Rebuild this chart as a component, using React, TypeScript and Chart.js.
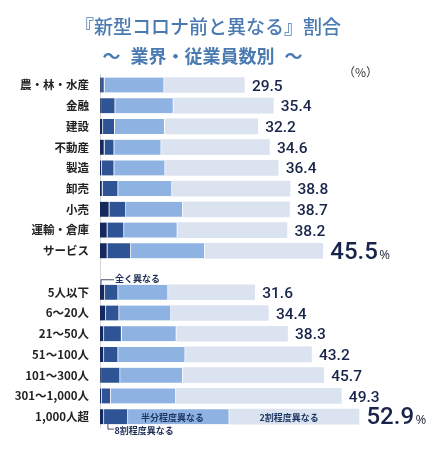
import React, { useEffect, useRef } from "react";
import { Chart, registerables } from "chart.js";

Chart.register(...registerables);

const categories = [
  "農・林・水産", "金融", "建設", "不動産", "製造", "卸売", "小売", "運輸・倉庫", "サービス",
  "",
  "5人以下", "6～20人", "21～50人", "51～100人", "101～300人", "301～1,000人", "1,000人超",
];

const seriesNames = ["全く異なる", "8割程度異なる", "半分程度異なる", "2割程度異なる"];

const totally = [0.2, 0.2, 0.6, 0.9, 0.3, 0.5, 1.9, 1.5, 1.5, null, 1.0, 1.2, 0.8, 0.8, 0.2, 0.3, 0.8];
const eighty = [0.7, 2.9, 2.4, 2.0, 2.6, 3.2, 3.4, 3.4, 4.8, null, 2.7, 2.7, 3.6, 2.9, 3.9, 1.9, 4.9];
const half = [12.2, 11.9, 10.2, 9.6, 10.4, 11.0, 11.6, 10.9, 15.1, null, 10.2, 10.6, 11.2, 13.7, 12.8, 13.3, 20.7];
const twenty = [16.4, 20.4, 19.0, 22.1, 23.1, 24.1, 21.8, 22.4, 24.1, null, 17.7, 19.9, 22.7, 25.8, 28.8, 33.8, 26.5];

const totals = [29.5, 35.4, 32.2, 34.6, 36.4, 38.8, 38.7, 38.2, 45.5, null, 31.6, 34.4, 38.3, 43.2, 45.7, 49.3, 52.9];
const bigRows = ["サービス", "1,000人超"];

const colors = ["#15295e", "#2f5496", "#8eb2e2", "#dbe3f0"];

const annotate = {
  id: "annotate",
  afterDatasetsDraw(chart: any) {
    const ctx = chart.ctx;
    ctx.save();
    const last = chart.getDatasetMeta(3);
    last.data.forEach((el: any, i: number) => {
      const v = totals[i];
      if (v == null) return;
      const big = bigRows.includes(categories[i]);
      const x = el.x + 7.5;
      const y = el.y;
      ctx.fillStyle = "#18244a";
      ctx.textAlign = "left";
      ctx.textBaseline = "alphabetic";
      if (big) {
        const t = v.toFixed(1);
        ctx.font = '500 24px Roboto, "Noto Sans"';
        ctx.fillText(t, x, y + 7.8);
        const w = ctx.measureText(t).width;
        ctx.font = '13px "Noto Sans"';
        ctx.fillStyle = "#333a4a";
        ctx.fillText("%", x + w + 1.5, y + 7.8);
      } else {
        ctx.font = '500 15.5px Roboto, "Noto Sans"';
        ctx.fillText(v.toFixed(1), x, y + 5.6);
      }
    });

    const lineColor = "#44506a";
    ctx.strokeStyle = lineColor;
    ctx.lineWidth = 1;
    ctx.font = 'bold 9px "Noto Sans CJK JP"';
    ctx.fillStyle = "#1f2f55";
    ctx.textBaseline = "middle";
    ctx.textAlign = "left";

    // 全く異なる callout on 5人以下
    const iTop = categories.indexOf("5人以下");
    const e0 = chart.getDatasetMeta(0).data[iTop];
    if (e0) {
      const top = e0.y - e0.height / 2;
      const lx = Math.min(e0.base, e0.x) + 1;
      ctx.beginPath();
      ctx.moveTo(lx, top);
      ctx.lineTo(lx, top - 5);
      ctx.lineTo(lx + 13, top - 5);
      ctx.stroke();
      ctx.fillText(seriesNames[0], lx + 14, top - 6.5);
    }

    // 8割程度異なる callout on 1,000人超
    const iBot = categories.indexOf("1,000人超");
    const e1 = chart.getDatasetMeta(1).data[iBot];
    if (e1) {
      const bottom = e1.y + e1.height / 2;
      const lx = Math.min(e1.base, e1.x) + 4;
      ctx.beginPath();
      ctx.moveTo(lx, bottom);
      ctx.lineTo(lx, bottom + 5);
      ctx.lineTo(lx + 6, bottom + 5);
      ctx.stroke();
      ctx.fillText(seriesNames[1], lx + 6.5, bottom + 6);
    }

    // inside labels
    ctx.textAlign = "center";
    ctx.fillStyle = "#1f3864";
    const e2 = chart.getDatasetMeta(2).data[iBot];
    if (e2) ctx.fillText(seriesNames[2], (e2.base + e2.x) / 2 - 6, e2.y + 0.5);
    const e3 = chart.getDatasetMeta(3).data[iBot];
    if (e3) ctx.fillText(seriesNames[3], (e3.base + e3.x) / 2 - 5, e3.y + 0.5);

    ctx.restore();
  },
};

export default function App() {
  const ref = useRef<HTMLCanvasElement | null>(null);

  useEffect(() => {
    if (!ref.current) return;
    const values = [totally, eighty, half, twenty];
    const chart = new Chart(ref.current, {
      type: "bar",
      data: {
        labels: categories,
        datasets: values.map((d, k) => ({
          label: seriesNames[k],
          data: d,
          backgroundColor: colors[k],
          borderColor: "#ffffff",
          borderWidth: k < 3 ? { top: 0, bottom: 0, left: 0, right: 1 } : 0,
          borderSkipped: false,
          barThickness: 15,
        })),
      },
      options: {
        indexAxis: "y",
        animation: false,
        responsive: true,
        maintainAspectRatio: false,
        layout: { padding: { left: 0, right: 2.3, top: 74.6, bottom: 23 } },
        plugins: {
          legend: { display: false },
          tooltip: { enabled: false },
          title: { display: false },
        },
        scales: {
          x: {
            stacked: true,
            min: 0,
            max: 70,
            display: false,
          },
          y: {
            stacked: true,
            grid: { display: false, drawTicks: false },
            border: { display: true, color: "#d6d6d6", width: 1 },
            ticks: {
              padding: 11,
              color: "#222222",
              font: { family: '"Noto Sans CJK JP"', size: 11.5, weight: "bold" },
            },
            afterFit: (scale: any) => {
              scale.width = 100;
            },
          },
        },
      },
      plugins: [annotate],
    } as any);
    return () => chart.destroy();
  }, []);

  return (
    <div style={{ position: "absolute", left: 0, top: 0, width: 445, height: 450, background: "#ffffff", overflow: "hidden" }}>
      <div style={{ position: "absolute", left: 0, top: 0, width: 445, height: 450 }}>
        <canvas ref={ref} />
      </div>
      <div
        style={{
          position: "absolute", left: 0, top: 12.5, width: 416, textAlign: "center",
          fontFamily: '"Noto Sans CJK JP"', fontSize: 19, fontWeight: 500, lineHeight: "26px",
          color: "#4a7ab2", whiteSpace: "nowrap",
        }}
      >
        『新型コロナ前と異なる』割合
      </div>
      <div
        style={{
          position: "absolute", left: 0, top: 43.5, width: 405, textAlign: "center",
          fontFamily: '"Noto Sans CJK JP"', fontSize: 18, fontWeight: 700, lineHeight: "22px",
          color: "#4a7ab2", whiteSpace: "nowrap", wordSpacing: 6,
        }}
      >
        ～ 業界・従業員数別 ～
      </div>
      <div
        style={{
          position: "absolute", left: 343, top: 64, fontFamily: '"Noto Sans CJK JP"', fontSize: 12,
          lineHeight: "16px", color: "#333333", whiteSpace: "nowrap",
        }}
      >
        （%）
      </div>
    </div>
  );
}
